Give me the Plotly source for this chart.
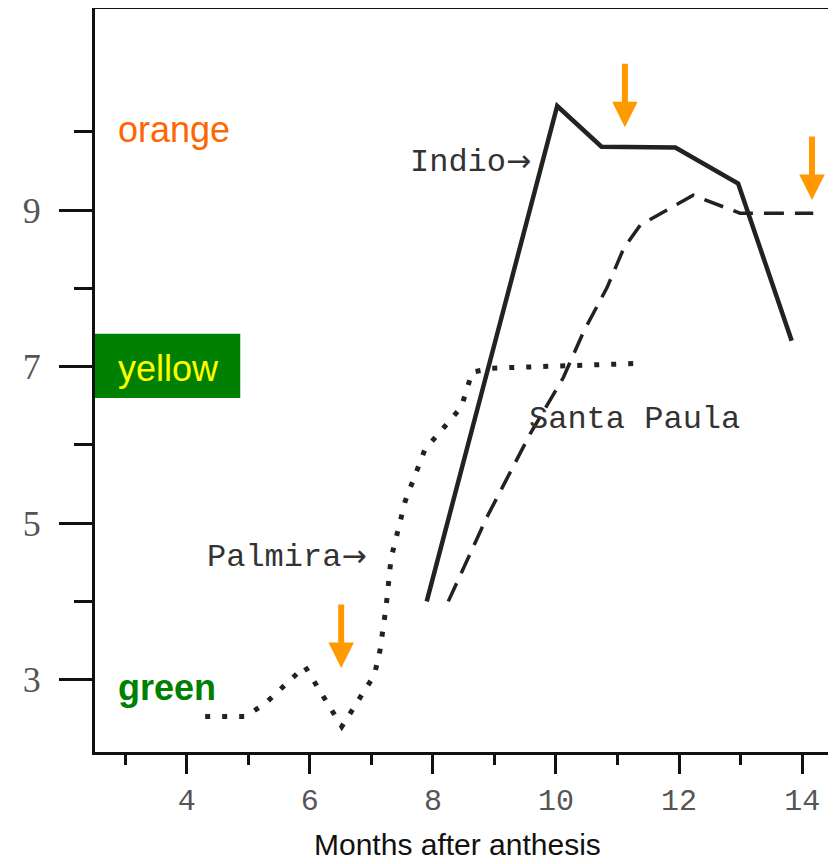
import plotly.graph_objects as go

# ---- data ----
indio_x = [7.9, 10.02, 10.74, 11.94, 12.96, 13.83]
indio_y = [4.0, 10.33, 9.81, 9.80, 9.34, 7.33]

santa_x = [8.25, 8.88, 9.58, 10.12, 10.45, 10.83, 11.10, 11.37, 12.23, 12.99, 13.26, 14.18]
santa_y = [4.0, 5.08, 6.14, 6.86, 7.45, 8.01, 8.51, 8.81, 9.19, 8.96, 8.96, 8.96]

palmira_x = [4.30, 4.95, 5.27, 5.92, 6.52, 7.05, 7.14, 7.24, 7.32, 7.44, 7.55, 7.87, 8.13, 8.46, 8.64, 8.96, 11.31]
palmira_y = [2.53, 2.53, 2.69, 3.17, 2.40, 3.06, 3.37, 3.93, 4.55, 4.96, 5.28, 5.94, 6.17, 6.48, 6.93, 6.98, 7.04]

x_major = [4, 6, 8, 10, 12, 14]
x_minor = [3, 5, 7, 9, 11, 13]
y_major = [3, 5, 7, 9]
y_minor = [4, 6, 8, 10]

series_labels = ["Indio", "Palmira", "Santa Paula"]
series_arrows = [True, True, False]
label_pos = [(7.60, 9.62), (4.30, 4.57), (9.53, 6.33)]

colour_labels = ["orange", "yellow", "green"]
colour_label_y = [10.03, 6.98, 2.90]
arrow_pos = [(11.12, 10.06), (6.51, 3.15), (14.16, 9.13)]

X_RANGE = [2.51, 14.55]
Y_RANGE = [2.075, 11.57]

fig = go.Figure()

fig.add_trace(go.Scatter(x=palmira_x, y=palmira_y, mode="lines",
                         line=dict(color="#222222", width=5, dash="5px,12px"),
                         showlegend=False, hoverinfo="skip"))
fig.add_trace(go.Scatter(x=santa_x, y=santa_y, mode="lines",
                         line=dict(color="#222222", width=3.5, dash="20px,11px"),
                         showlegend=False, hoverinfo="skip"))
fig.add_trace(go.Scatter(x=indio_x, y=indio_y, mode="lines",
                         line=dict(color="#222222", width=4.5),
                         showlegend=False, hoverinfo="skip"))

annotations = []
mono = dict(family="Liberation Mono, Courier New, monospace", size=32, color="#333333")
arrow_span = "<span style='font-family:DejaVu Sans;font-size:30px'>\u2192</span>"
for txt, arr, (ax_, ay_) in zip(series_labels, series_arrows, label_pos):
    t = txt + (arrow_span if arr else "")
    annotations.append(dict(x=ax_, y=ay_, xref="x", yref="y", text=t, showarrow=False,
                            xanchor="left", yanchor="middle", font=mono))

# coloured stage labels
label_colours = ["#FF6600", "#FFFF00", "#008000"]
for i, (txt, yy) in enumerate(zip(colour_labels, colour_label_y)):
    txt_html = "<b>%s</b>" % txt if txt == "green" else txt
    annotations.append(dict(x=2.85, y=yy, xref="x", yref="y", text=txt_html, showarrow=False,
                            xanchor="left", yanchor="middle",
                            font=dict(family="Liberation Sans, Arial, sans-serif", size=36,
                                      color=label_colours[i])))

# orange arrows
for (px_, py_) in arrow_pos:
    annotations.append(dict(x=px_, y=py_, xref="x", yref="y", text="", showarrow=True,
                            ax=0, ay=-65, arrowhead=2, arrowsize=0.85, arrowwidth=6,
                            arrowcolor="#FF9900"))

# axis title
annotations.append(dict(x=0.489, y=-0.125, xref="paper", yref="paper",
                        text="Months after anthesis", showarrow=False,
                        xanchor="center", yanchor="middle",
                        font=dict(family="Liberation Sans, Arial, sans-serif", size=30,
                                  color="#111111")))

fig.update_layout(
    width=828, height=856,
    margin=dict(l=87, r=0, t=1, b=112, autoexpand=False),
    paper_bgcolor="white", plot_bgcolor="white",
    annotations=annotations,
    shapes=[dict(type="rect", xref="x", yref="y", x0=X_RANGE[0], x1=4.87, y0=6.60, y1=7.42,
                 fillcolor="#008000", line=dict(width=0), layer="below")],
)

fig.update_xaxes(range=X_RANGE, showgrid=False, zeroline=False,
                 showline=True, linecolor="#111111", linewidth=2.5, mirror=True,
                 tickmode="array", tickvals=x_major, ticktext=[str(v) for v in x_major],
                 ticks="outside", ticklen=19, tickwidth=3, tickcolor="#111111",
                 tickfont=dict(family="Liberation Mono, Courier New, monospace", size=30,
                               color="#555555"),
                 minor=dict(tickmode="array", tickvals=x_minor, ticks="outside",
                            ticklen=10, tickwidth=3, tickcolor="#111111", showgrid=False))

fig.update_yaxes(range=Y_RANGE, showgrid=False, zeroline=False,
                 showline=True, linecolor="#111111", linewidth=3,
                 tickmode="array", tickvals=y_major, ticktext=[str(v) for v in y_major],
                 ticks="outside", ticklen=33, tickwidth=3, tickcolor="#111111",
                 ticklabelstandoff=11,
                 tickfont=dict(family="Liberation Serif, Times New Roman, serif", size=36,
                               color="#555555"),
                 minor=dict(tickmode="array", tickvals=y_minor, ticks="outside",
                            ticklen=18, tickwidth=3, tickcolor="#111111", showgrid=False))

fig.write_html("out.html")
